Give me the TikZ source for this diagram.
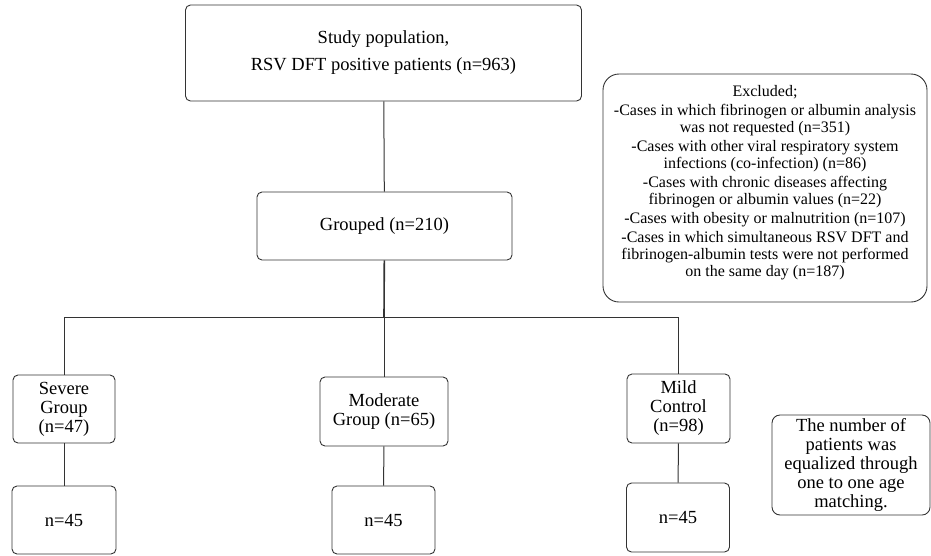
\documentclass[tikz,border=0pt]{standalone}
\usepackage{fontspec}
\setmainfont{Liberation Serif}
\begin{document}
\setlength{\lineskiplimit}{-20pt}
\begin{tikzpicture}[x=1pt, y=-1pt,
    box/.style={draw=black!80, line width=0.9pt, rounded corners=5pt, align=center, inner sep=2pt,
      font=\fontsize{18.5}{19}\selectfont},
    link/.style={draw=black!80, line width=1pt}]
        \useasboundingbox (0,0) rectangle (931,555);
        % Study flow chart
        \node[box, minimum width=396pt, minimum height=96pt] (pop) at (383.5,53) {Study population,\\[8pt]RSV DFT positive patients (n=963)};
        \node[box, minimum width=255pt, minimum height=68pt] (grp) at (384.5,226) {Grouped (n=210)};
        \node[box, rounded corners=16pt, minimum width=324pt, minimum height=228pt,
          font=\fontsize{16}{17}\selectfont] (excl) at (765,188)
          {Excluded;\\[2pt]
           -Cases in which fibrinogen or albumin analysis\\was not requested (n=351)\\[2pt]
           -Cases with other viral respiratory system\\infections (co-infection) (n=86)\\[2pt]
           -Cases with chronic diseases affecting\\fibrinogen or albumin values (n=22)\\[2pt]
           -Cases with obesity or malnutrition (n=107)\\[2pt]
           -Cases in which simultaneous RSV DFT and\\fibrinogen-albumin tests were not performed\\on the same day (n=187)\rule[-14pt]{0pt}{0pt}};

        \node[box, minimum width=102pt, minimum height=68pt] (sev) at (64,409) {Severe\\Group\\(n=47)};
        \node[box, minimum width=128pt, minimum height=69pt] (mod) at (384,411.5) {Moderate\\Group (n=65)};
        \node[box, minimum width=103pt, minimum height=69pt] (mild) at (678.5,408.5) {Mild\\Control\\(n=98)};

        \node[box, minimum width=104pt, minimum height=68pt] (sevm) at (64,520) {n=45};
        \node[box, minimum width=103pt, minimum height=68pt] (modm) at (383.5,520) {n=45};
        \node[box, minimum width=103pt, minimum height=69pt] (mildm) at (678,517.5) {n=45};

        \node[box, rounded corners=8pt, minimum width=158pt, minimum height=100pt] (note) at (851,465)
          {The number of\\patients was\\equalized through\\one to one age\\matching.};

        \coordinate (bus) at (384,317);
        \draw[link] (pop) -- (grp);
        \draw[link, line width=1.6pt] (grp) -- (bus);
        \draw[link] (bus) -| (sev);
        \draw[link] (bus) -| (mild);
        \draw[link] (bus) -- (mod);

        \draw[link] (sev) -- (sevm);
        \draw[link] (mod) -- (modm);
        \draw[link] (mild) -- (mildm);
\end{tikzpicture}
\end{document}
